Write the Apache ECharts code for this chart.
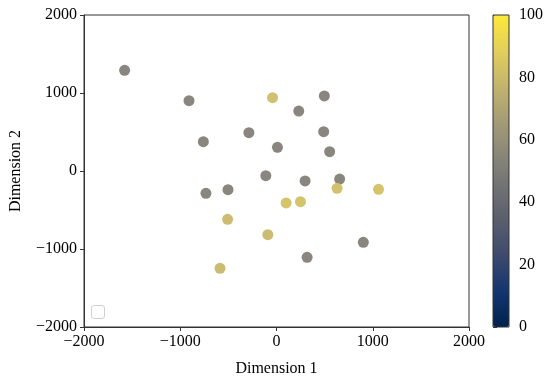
<!DOCTYPE html>
<html><head><meta charset="utf-8">
<script src="https://cdn.jsdelivr.net/npm/echarts@6/dist/echarts.min.js"></script>
<style>html,body{margin:0;padding:0;background:#fff}#c{width:550px;height:383px}</style>
</head><body><div id="c"></div>
<script>
const dim1 = [-1578, -909, -41, 497, 231, -760, -287, 490, 10, 552, -111, 297, 656, -733, -504, 629, 1060, 100, 249, -508, -90, 902, 318, -587];
const dim2 = [1291, 901, 940, 962, 769, 376, 491, 504, 303, 248, -60, -128, -103, -286, -240, -222, -235, -410, -393, -620, -816, -915, -1107, -1248];
const colorValue = [52, 52, 81, 52, 52, 52, 52, 52, 52, 52, 52, 52, 52, 52, 52, 82, 83, 83, 83, 79, 79, 52, 52, 79];
const xTicks = [-2000, -1000, 0, 1000, 2000];
const yTicks = [-2000, -1000, 0, 1000, 2000];
const cbTicks = [0, 20, 40, 60, 80, 100];
const cividis = ['#00224e','#123570','#3b496c','#575d6d','#707173','#8a8779','#a69d75','#c4b56c','#e4cf5b','#fee838'];

const font = 'Liberation Serif';
const minus = v => String(v).replace('-', '\u2212');
const points = dim1.map((x, i) => [x, dim2[i], colorValue[i]]);
const chart = echarts.init(document.getElementById('c'));
chart.setOption({
  animation: false,
  grid: [
    {left: 83, top: 15, width: 386, height: 312, show: true, borderColor: '#333', borderWidth: 1},
    {left: 493, top: 15, width: 16, height: 312, show: false}
  ],
  xAxis: [
    {gridIndex: 0, type: 'value', min: xTicks[0], max: xTicks[xTicks.length-1], interval: 1000,
     name: 'Dimension 1', nameLocation: 'middle', nameGap: 34,
     nameTextStyle: {fontFamily: font, fontSize: 16, color: '#000'},
     axisLine: {show: true, onZero: false, lineStyle: {color: '#333', width: 1}},
     axisTick: {show: true, length: 4, lineStyle: {color: '#333'}},
     axisLabel: {fontFamily: font, fontSize: 16, color: '#000', margin: 7, formatter: minus},
     splitLine: {show: false}},
    {gridIndex: 1, type: 'value', min: 0, max: 1, show: false}
  ],
  yAxis: [
    {gridIndex: 0, type: 'value', min: yTicks[0], max: yTicks[yTicks.length-1], interval: 1000,
     name: 'Dimension 2', nameLocation: 'middle', nameGap: 60,
     nameTextStyle: {fontFamily: font, fontSize: 16, color: '#000'},
     axisLine: {show: true, onZero: false, lineStyle: {color: '#333', width: 1}},
     axisTick: {show: true, length: 4, lineStyle: {color: '#333'}},
     axisLabel: {fontFamily: font, fontSize: 16, color: '#000', margin: 7, formatter: minus},
     splitLine: {show: false}},
    {gridIndex: 1, type: 'value', position: 'right', min: cbTicks[0], max: cbTicks[cbTicks.length-1], interval: 20,
     axisLine: {show: false},
     axisTick: {show: true, length: 4, lineStyle: {color: '#333'}},
     axisLabel: {fontFamily: font, fontSize: 16, color: '#000', margin: 10},
     splitLine: {show: false}}
  ],
  visualMap: {
    type: 'continuous', min: 0, max: 100, dimension: 2, seriesIndex: 0,
    calculable: false, text: ['', ''], showLabel: false,
    left: 493, top: 15, itemWidth: 16, itemHeight: 312, padding: 0,
    inRange: {color: cividis}
  },
  graphic: [
    {type: 'rect', shape: {x: 493, y: 15, width: 16, height: 312}, style: {fill: 'none', stroke: '#333', lineWidth: 1}, z: 100, silent: true},
    {type: 'rect', shape: {x: 91.5, y: 305.5, width: 13, height: 13, r: 2.5}, style: {fill: '#fff', stroke: '#d0d0d0', lineWidth: 1}, z: 100, silent: true}
  ],
  series: [{
    type: 'scatter', xAxisIndex: 0, yAxisIndex: 0, data: points,
    symbolSize: 11, itemStyle: {opacity: 0.95}
  }]
});
</script></body></html>
